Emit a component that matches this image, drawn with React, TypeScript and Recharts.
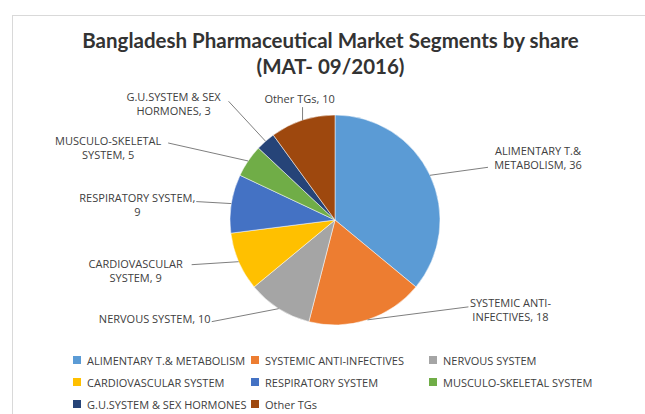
import React from "react";
import { PieChart, Pie, Cell, Legend } from "recharts";

const SEGMENTS = [
  "ALIMENTARY T.& METABOLISM",
  "SYSTEMIC ANTI-INFECTIVES",
  "NERVOUS SYSTEM",
  "CARDIOVASCULAR SYSTEM",
  "RESPIRATORY SYSTEM",
  "MUSCULO-SKELETAL SYSTEM",
  "G.U.SYSTEM & SEX HORMONES",
  "Other TGs",
];
const SHARES = [36, 18, 10, 9, 9, 5, 3, 10];
const COLORS = ["#5B9BD5", "#ED7D31", "#A5A5A5", "#FFC000", "#4472C4", "#70AD47", "#264478", "#9E480E"];

const DATA = SEGMENTS.map((name, i) => ({ name, value: SHARES[i] }));

// label placement relative to the slice edge point at midAngle
const LABEL_LAYOUT = [
  { text: [108, -18], line: [58, -8], wrap: 16 },
  { text: [143, -11], line: [101, -13], wrap: 16 },
  { text: [-124, 9], line: [-67, 13], wrap: 20 },
  { text: [-103, 8], line: [-47, 3], wrap: 16 },
  { text: [-94, 0], line: [-35, -2], wrap: 20 },
  { text: [-140, -14], line: [-80, -18], wrap: 16 },
  { text: [-92, -38], line: [-37, -40], wrap: 16 },
  { text: [-3, -22], line: [0, -13], wrap: 16 },
];

const TITLE_FONT = "Lato, 'Open Sans', sans-serif";
const FONT = "'Open Sans', Lato, sans-serif";
const RAD = Math.PI / 180;

function wrap(text: string, max: number) {
  const tokens = text.match(/[^\s-]+-?\s*/g) || [text];
  const lines: string[] = [];
  let cur = "";
  for (const t of tokens) {
    if (cur && (cur + t).trimEnd().length > max) {
      lines.push(cur.trimEnd());
      cur = t;
    } else {
      cur += t;
    }
  }
  if (cur) lines.push(cur.trimEnd());
  return lines;
}

function renderLabel(props: any) {
  const { cx, cy, midAngle, outerRadius, index } = props;
  const ex = cx + outerRadius * Math.cos(-midAngle * RAD);
  const ey = cy + outerRadius * Math.sin(-midAngle * RAD);
  const L = LABEL_LAYOUT[index];
  const tx = ex + L.text[0];
  const ty = ey + L.text[1];
  const d = DATA[index];
  const lines = wrap(`${d.name}, ${d.value}`, L.wrap);
  const lh = 14;
  const y0 = ty - ((lines.length - 1) * lh) / 2;
  return (
    <g key={`lbl-${index}`}>
      <line x1={ex} y1={ey} x2={ex + L.line[0]} y2={ey + L.line[1]} stroke="#7f7f7f" strokeWidth={1} />
      <text
        x={tx}
        y={y0}
        textAnchor="middle"
        dominantBaseline="central"
        fill="#404040"
        fontSize={11}
        fontFamily={FONT}
      >
        {lines.map((ln, k) => (
          <tspan key={k} x={tx} y={y0 + k * lh}>
            {ln}
          </tspan>
        ))}
      </text>
    </g>
  );
}

function renderLegend() {
  return (
    <div style={{ position: "relative", width: 645, height: 66, fontFamily: FONT }}>
      {DATA.map((d, i) => (
        <div
          key={i}
          style={{
            position: "absolute",
            left: 73 + (i % 3) * 178,
            top: Math.floor(i / 3) * 22,
            height: 12,
            display: "flex",
            alignItems: "center",
            whiteSpace: "nowrap",
            fontSize: 11,
            color: "#404040",
          }}
        >
          <span style={{ width: 8, height: 8, background: COLORS[i], marginRight: 6, display: "inline-block" }} />
          {d.name}
        </div>
      ))}
    </div>
  );
}

export default function App() {
  return (
    <div
      style={{
        position: "fixed",
        left: 0,
        top: 0,
        width: 645,
        height: 414,
        overflow: "hidden",
        background: "#fff",
      }}
    >
      <div
        style={{
          position: "absolute",
          left: 12,
          top: 15,
          width: 700,
          height: 500,
          border: "1px solid #d9d9d9",
        }}
      />
      <div
        style={{
          position: "absolute",
          left: 0,
          top: 27,
          width: 661,
          textAlign: "center",
          fontFamily: TITLE_FONT,
          fontWeight: 700,
          fontSize: 20.5,
          lineHeight: "26px",
          color: "#333333",
        }}
      >
        Bangladesh Pharmaceutical Market Segments by share
        <br />
        (MAT- 09/2016)
      </div>
      <div style={{ position: "absolute", left: 0, top: 0 }}>
        <PieChart width={645} height={414}>
          <Pie
            data={DATA}
            dataKey="value"
            nameKey="name"
            cx={330}
            cy={215}
            outerRadius={105}
            startAngle={90}
            endAngle={-270}
            stroke="#ffffff"
            strokeWidth={0.5}
            label={renderLabel}
            labelLine={false}
            isAnimationActive={false}
          >
            {DATA.map((_, i) => (
              <Cell key={i} fill={COLORS[i]} />
            ))}
          </Pie>
          <Legend
            content={renderLegend}
            wrapperStyle={{ position: "absolute", left: 0, top: 354, width: 645 }}
          />
        </PieChart>
      </div>
    </div>
  );
}
